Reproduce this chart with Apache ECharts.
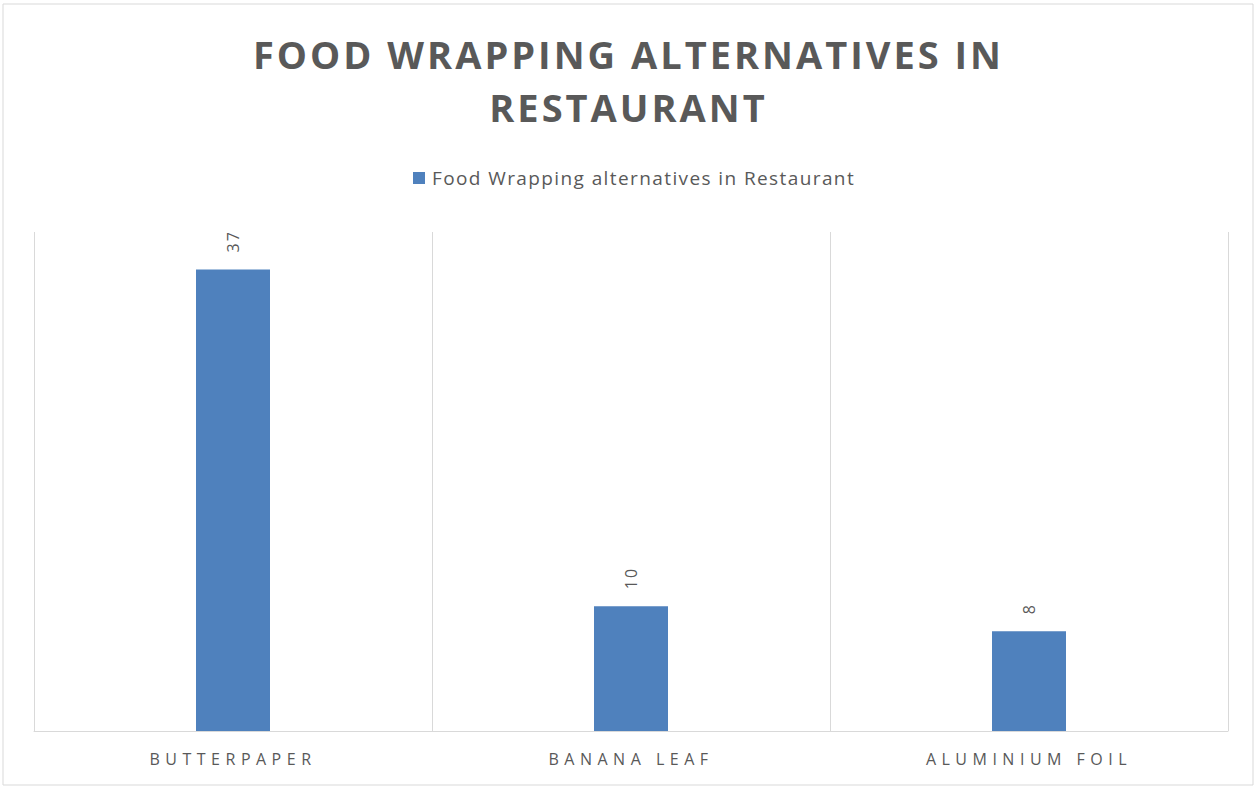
<!DOCTYPE html>
<html>
<head>
<meta charset="utf-8">
<title>Food Wrapping alternatives in Restaurant</title>
<script src="https://cdn.jsdelivr.net/npm/echarts@6/dist/echarts.min.js"></script>
<style>
  html, body { margin: 0; padding: 0; background: #ffffff; }
  #chart { width: 1257px; height: 789px; }
</style>
</head>
<body>
<div id="chart"></div>
<script>
// Chart data
const chartTitle = 'FOOD WRAPPING ALTERNATIVES IN\nRESTAURANT';
const seriesName = 'Food Wrapping alternatives in Restaurant';
const categories = ['BUTTERPAPER', 'BANANA LEAF', 'ALUMINIUM FOIL'];
const counts = [37, 10, 8];

const textGray = '#595959';
const gridGray = '#d9d9d9';
const barBlue = '#4f81bd';

const chart = echarts.init(document.getElementById('chart'), null, { renderer: 'svg' });

chart.setOption({
  animation: false,
  backgroundColor: '#ffffff',
  title: {
    text: chartTitle,
    left: 'center',
    top: 27,
    padding: 0,
    textStyle: {
      fontFamily: 'Open Sans',
      fontWeight: 'bold',
      fontSize: 38,
      lineHeight: 53,
      color: textGray
    }
  },
  legend: {
    data: [seriesName],
    left: 408,
    top: 163,
    itemWidth: 12,
    itemHeight: 12,
    icon: 'rect',
    textStyle: {
      fontFamily: 'Open Sans',
      fontSize: 19,
      lineHeight: 20,
      color: textGray,
      padding: [0, 0, 0, 2]
    }
  },
  graphic: [{
    type: 'rect',
    shape: { x: 3, y: 4, width: 1250, height: 781 },
    style: { fill: 'none', stroke: gridGray, lineWidth: 1 },
    silent: true
  }],
  grid: {
    left: 34,
    right: 29,
    top: 232,
    bottom: 58
  },
  xAxis: {
    type: 'category',
    data: categories,
    boundaryGap: true,
    axisLine: { show: true, lineStyle: { color: gridGray, width: 1 } },
    axisTick: { show: false },
    splitLine: { show: true, lineStyle: { color: gridGray, width: 1 } },
    axisLabel: {
      margin: 20,
      fontFamily: 'Open Sans',
      fontSize: 16,
      color: textGray
    }
  },
  yAxis: {
    type: 'value',
    min: 0,
    max: 40,
    interval: 10,
    axisLine: { show: false },
    axisTick: { show: false },
    axisLabel: { show: false },
    splitLine: { show: false }
  },
  series: [{
    name: seriesName,
    type: 'bar',
    data: counts,
    barWidth: 74,
    itemStyle: { color: barBlue },
    label: {
      show: true,
      position: 'top',
      rotate: 90,
      distance: 17,
      align: 'left',
      verticalAlign: 'middle',
      fontFamily: 'Open Sans',
      fontSize: 16,
      color: textGray
    }
  }]
});

// Spaced lettering for the title, legend, category names and value labels
function applyLetterSpacing() {
  const titleLines = chartTitle.split('\n');
  const valueTexts = counts.map(String);
  document.querySelectorAll('#chart svg text').forEach(function (t) {
    const s = t.textContent;
    if (titleLines.indexOf(s) >= 0) {
      t.style.letterSpacing = '3px';
    } else if (categories.indexOf(s) >= 0) {
      t.style.letterSpacing = '5.5px';
    } else if (s === seriesName) {
      t.style.letterSpacing = '1.4px';
    } else if (valueTexts.indexOf(s) >= 0) {
      t.style.letterSpacing = '2px';
    }
  });
}
applyLetterSpacing();
chart.on('finished', applyLetterSpacing);
</script>
</body>
</html>
